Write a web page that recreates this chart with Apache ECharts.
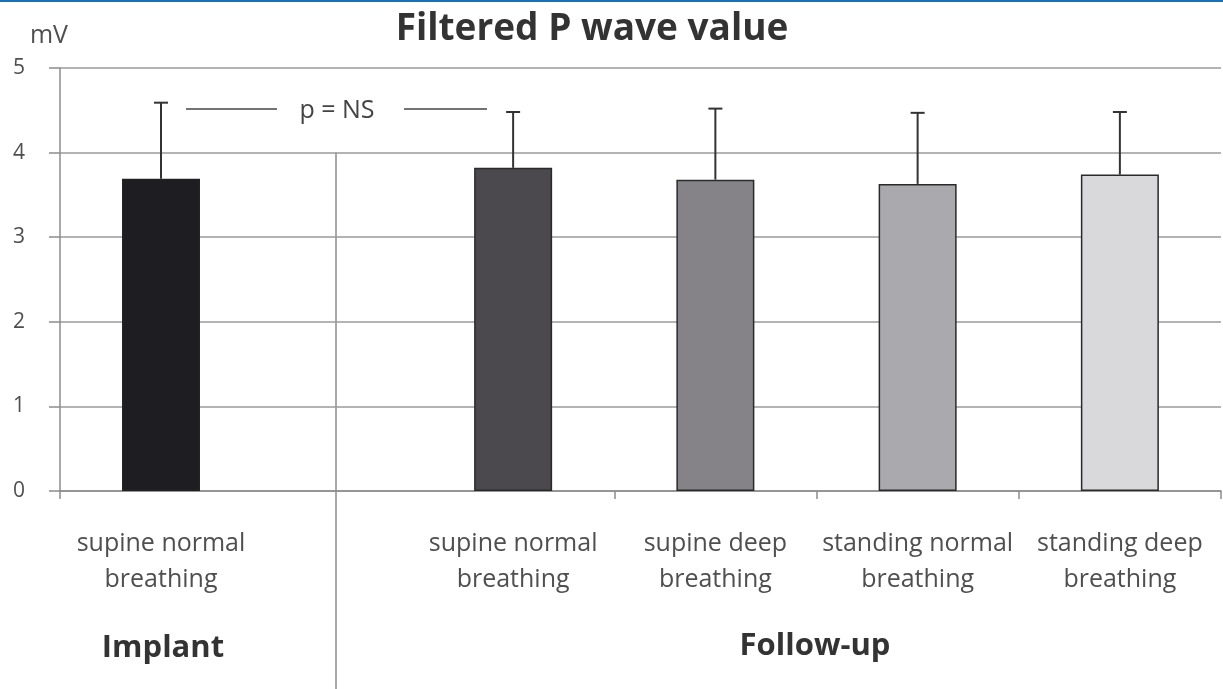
<!DOCTYPE html>
<html><head><meta charset="utf-8">
<script src="https://cdn.jsdelivr.net/npm/echarts@6/dist/echarts.min.js"></script>
<style>html,body{margin:0;padding:0;background:#fff}#c{width:1223px;height:689px}</style>
</head><body><div id="c"></div>
<script>
// ---- data ----
const implantCategories = ['supine normal\nbreathing'];
const implantMeans = [3.69];
const implantSD = [0.90];
const followCategories = ['supine normal\nbreathing', 'supine deep\nbreathing', 'standing normal\nbreathing', 'standing deep\nbreathing'];
const followMeans = [3.82, 3.68, 3.63, 3.74];
const followSD = [0.66, 0.84, 0.84, 0.74];
const yMin = 0, yMax = 5, yStep = 1;
const groupLabels = ['Implant', 'Follow-up'];
const titleText = 'Filtered P wave value';
const unitText = 'mV';
const pText = 'p = NS';

// ---- styles / layout ----
const implantColor = '#1e1e22';
const followColors = ['#4b494e', '#858388', '#aaa9ad', '#d9d9db'];
const FONT = 'Open Sans';
const W = 1223, H = 689;
const plotLeft = 60, plotRight = 1221, plotTop = 68, plotBottomY = 491;
const gridBottom = H - plotBottomY;
const axisCol = '#8c8c8c';
const labelCol = '#4f4f4f';

const chart = echarts.init(document.getElementById('c'), null, {renderer: 'canvas'});

function errItem(params, api) {
  const x = api.value(0), m = api.value(1), sd = api.value(2);
  const p0 = api.coord([x, m]);
  const p1 = api.coord([x, m + sd]);
  const style = {stroke: '#333', lineWidth: 2};
  return {type: 'group', children: [
    {type: 'line', shape: {x1: p0[0], y1: p0[1], x2: p1[0], y2: p1[1]}, style},
    {type: 'line', shape: {x1: p1[0] - 7, y1: p1[1], x2: p1[0] + 7, y2: p1[1]}, style}
  ]};
}

const yHidden = (gi) => ({type: 'value', gridIndex: gi, min: yMin, max: yMax, interval: yStep, show: false});
const catLabel = {show: true, interval: 0, fontFamily: FONT, fontSize: 25, color: labelCol, lineHeight: 36, margin: 35};

const plotH = plotBottomY - plotTop;
const y4 = plotTop + (yMax - 4) / (yMax - yMin) * plotH;

chart.setOption({
  animation: false,
  backgroundColor: '#fff',
  grid: [
    {left: plotLeft, right: W - plotRight, top: plotTop, bottom: gridBottom},
    {left: plotLeft, width: 202, top: plotTop, bottom: gridBottom},
    {left: 412, right: W - plotRight, top: plotTop, bottom: gridBottom}
  ],
  xAxis: [
    {type: 'category', gridIndex: 0, data: [''],
      axisLine: {show: true, lineStyle: {color: axisCol, width: 1.5}},
      axisTick: {show: true, length: 8, lineStyle: {color: axisCol, width: 1.5}},
      axisLabel: {show: false}, splitLine: {show: false}},
    {type: 'category', gridIndex: 1, data: implantCategories,
      axisLine: {show: false}, axisTick: {show: false}, axisLabel: catLabel},
    {type: 'category', gridIndex: 2, data: followCategories,
      axisLine: {show: false},
      axisTick: {show: true, length: 8, interval: (i) => i > 0, lineStyle: {color: axisCol, width: 1.5}},
      axisLabel: catLabel}
  ],
  yAxis: [
    {type: 'value', gridIndex: 0, min: yMin, max: yMax, interval: yStep,
      axisLine: {show: true, lineStyle: {color: axisCol, width: 1.5}},
      axisTick: {show: true, length: 11, lineStyle: {color: axisCol, width: 1.5}},
      splitLine: {show: true, lineStyle: {color: '#9a9a9a', width: 1.5}},
      axisLabel: {fontFamily: FONT, fontSize: 21, color: labelCol, margin: 35}},
    yHidden(1), yHidden(2)
  ],
  series: [
    {type: 'bar', xAxisIndex: 1, yAxisIndex: 1, barWidth: 78, data: implantMeans,
      itemStyle: {color: implantColor, borderColor: '#222', borderWidth: 1.5}},
    {type: 'bar', xAxisIndex: 2, yAxisIndex: 2, barWidth: 78,
      data: followMeans.map((v, i) => ({value: v, itemStyle: {color: followColors[i]}})),
      itemStyle: {borderColor: '#2a2a2a', borderWidth: 1.5}},
    {type: 'custom', xAxisIndex: 1, yAxisIndex: 1, renderItem: errItem, z: 3,
      encode: {x: 0, y: 1},
      data: implantMeans.map((m, i) => [i, m, implantSD[i]])},
    {type: 'custom', xAxisIndex: 2, yAxisIndex: 2, renderItem: errItem, z: 3,
      encode: {x: 0, y: 1},
      data: followMeans.map((m, i) => [i, m, followSD[i]])}
  ],
  graphic: [
    {type: 'rect', shape: {x: 0, y: 0, width: W, height: 2}, style: {fill: '#1b6fb4'}},
    {type: 'text', x: 592, y: 29, style: {text: titleText, fontFamily: FONT, fontSize: 37, fontWeight: 'bold', fill: '#333', align: 'center', verticalAlign: 'middle'}},
    {type: 'text', x: 49, y: 36, style: {text: unitText, fontFamily: FONT, fontSize: 25, fill: labelCol, align: 'center', verticalAlign: 'middle'}},
    {type: 'line', shape: {x1: 336, y1: y4, x2: 336, y2: H}, style: {stroke: axisCol, lineWidth: 1.5}},
    {type: 'line', shape: {x1: 186, y1: 109, x2: 277, y2: 109}, style: {stroke: '#444', lineWidth: 1.5}},
    {type: 'line', shape: {x1: 404, y1: 109, x2: 487, y2: 109}, style: {stroke: '#444', lineWidth: 1.5}},
    {type: 'text', x: 337, y: 111, style: {text: pText, fontFamily: FONT, fontSize: 25, fill: '#444', align: 'center', verticalAlign: 'middle'}},
    {type: 'text', x: 163, y: 648, style: {text: groupLabels[0], fontFamily: FONT, fontSize: 31, fontWeight: 'bold', fill: '#333', align: 'center', verticalAlign: 'middle'}},
    {type: 'text', x: 815, y: 646, style: {text: groupLabels[1], fontFamily: FONT, fontSize: 31, fontWeight: 'bold', fill: '#333', align: 'center', verticalAlign: 'middle'}}
  ]
});
</script></body></html>
